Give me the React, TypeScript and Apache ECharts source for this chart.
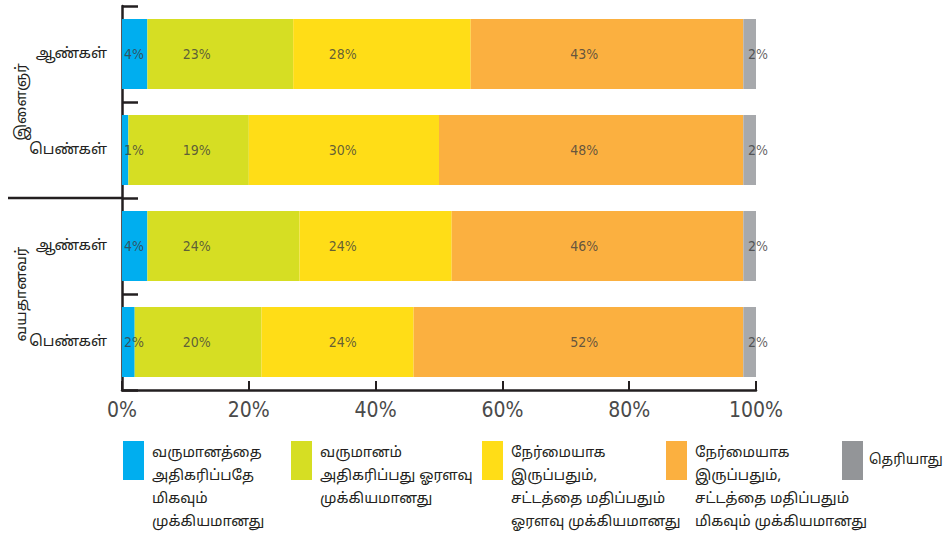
import React, { useEffect, useRef } from "react";
import * as echarts from "echarts";

const rowKeys = ["young_m", "young_f", "old_m", "old_f"];
const rowLabels = ["ஆண்கள்", "பெண்கள்", "ஆண்கள்", "பெண்கள்"];
const groupLabels = ["இளைஞர்", "வயதானவர்"];
const seriesNames = [
  "வருமானத்தை\nஅதிகரிப்பதே\nமிகவும்\nமுக்கியமானது",
  "வருமானம்\nஅதிகரிப்பது ஓரளவு\nமுக்கியமானது",
  "நேர்மையாக\nஇருப்பதும்,\nசட்டத்தை மதிப்பதும்\nஓரளவு முக்கியமானது",
  "நேர்மையாக\nஇருப்பதும்,\nசட்டத்தை மதிப்பதும்\nமிகவும் முக்கியமானது",
  "தெரியாது",
];
const incomeMost = [4, 1, 4, 2];
const incomeSome = [23, 19, 24, 20];
const honestSome = [28, 30, 24, 24];
const honestMost = [43, 48, 46, 52];
const dontKnow = [2, 2, 2, 2];
const xTicks = [0, 20, 40, 60, 80, 100];

// layout / style (not data)
const seriesValues = [incomeMost, incomeSome, honestSome, honestMost, dontKnow];
const colors = ["#00aeef", "#d6de23", "#ffdd17", "#fbb040", "#a7a9ac"];
const legendIconColors = ["#00aeef", "#d6de23", "#ffdd17", "#fbb040", "#939598"];
const labelColumns = [1.9, 11.8, 34.8, 72.9, 100.3];
const legendLefts = [123, 291, 482, 666, 842];
const LINE_H = 23;
const ICON_W = 21;
const ICON_H = 39;
const NUM_FONT = "'Liberation Sans Narrow', 'DejaVu Sans Condensed', 'Roboto Condensed', 'Liberation Sans', sans-serif";
const TAMIL_FONT = "'Noto Sans Tamil', 'Noto Serif Tamil', 'Lohit Tamil', 'FreeSerif', 'FreeSans', sans-serif";

export default function App() {
  const ref = useRef<HTMLDivElement>(null);
  useEffect(() => {
    if (!ref.current) return;
    const chart = echarts.init(ref.current, undefined, { renderer: "svg" });
    const bars = seriesNames.map((name, i) => ({
      name,
      type: "bar",
      stack: "total",
      yAxisIndex: 0,
      barWidth: 70,
      silent: true,
      itemStyle: { color: colors[i] },
      data: seriesValues[i],
    }));
    const labels = seriesNames.map((name, i) => ({
      name: "lbl" + i,
      type: "scatter",
      yAxisIndex: 0,
      symbolSize: 0,
      silent: true,
      clip: false,
      z: 5,
      data: seriesValues[i].map((v, j) => [labelColumns[i], j, v]),
      label: {
        show: true,
        position: "inside",
        formatter: (p: any) => p.value[2] + "%",
        fontFamily: NUM_FONT,
        fontSize: 14,
        color: "#3d3d3d",
      },
    }));
    const legends = seriesNames.map((name, i) => {
      const lines = name.split("\n").length;
      const h = Math.max(ICON_H, lines * LINE_H);
      // icon: coloured rect at the top of a taller (transparent) item box
      const icon = `path://M0,0H${ICON_W}V${ICON_H}H0Z M0,${h}H${ICON_W}`;
      const last = i === seriesNames.length - 1;
      return {
        data: [{ name, itemStyle: { color: legendIconColors[i] } }],
        left: legendLefts[i],
        top: 441,
        padding: 0,
        icon,
        itemWidth: ICON_W,
        itemHeight: h,
        selectedMode: false,
        textStyle: {
          fontFamily: TAMIL_FONT,
          fontSize: last ? 14 : 14.5,
          lineHeight: LINE_H,
          color: "#231f20",
          padding: [0, 0, 0, last ? 1 : 3],
        },
      };
    });
    chart.setOption({
      animation: false,
      grid: { left: 122, top: 6, width: 634, height: 384 },
      legend: legends,
      xAxis: {
        type: "value",
        min: xTicks[0],
        max: xTicks[xTicks.length - 1],
        interval: xTicks[1] - xTicks[0],
        splitLine: { show: false },
        axisLine: { show: true, lineStyle: { color: "#231f20", width: 2.5 } },
        axisTick: { show: true, inside: true, length: 9, lineStyle: { color: "#231f20", width: 2 } },
        axisLabel: {
          formatter: "{value}%",
          fontFamily: NUM_FONT,
          fontSize: 21,
          color: "#4a4a4a",
          margin: 9,
        },
      },
      yAxis: [
        {
          type: "category",
          inverse: true,
          data: rowKeys,
          axisLine: { show: true, lineStyle: { color: "#231f20", width: 2.5 } },
          axisTick: { show: true, inside: true, length: 16, lineStyle: { color: "#231f20", width: 2.5 } },
          axisLabel: {
            formatter: (v: string) => rowLabels[rowKeys.indexOf(v)],
            fontFamily: TAMIL_FONT,
            fontSize: 15,
            color: "#231f20",
            margin: 15,
          },
        },
        {
          type: "category",
          inverse: true,
          position: "left",
          offset: 86,
          data: groupLabels,
          axisLine: { show: false },
          axisTick: { show: false },
          axisLabel: { rotate: 90, fontFamily: TAMIL_FONT, fontSize: 15, color: "#231f20", margin: 6 },
        },
      ],
      series: [...bars, ...labels],
    });
    const y1 = chart.convertToPixel({ yAxisIndex: 0 }, 1) as number;
    const y2 = chart.convertToPixel({ yAxisIndex: 0 }, 2) as number;
    const x0 = chart.convertToPixel({ xAxisIndex: 0 }, 0) as number;
    const ySep = (y1 + y2) / 2;
    chart.setOption({
      graphic: [
        {
          type: "line",
          shape: { x1: 8, y1: ySep, x2: x0, y2: ySep },
          style: { stroke: "#231f20", lineWidth: 2.5 },
          silent: true,
        },
      ],
    });
    return () => chart.dispose();
  }, []);
  return (
    <div
      ref={ref}
      style={{ position: "fixed", left: 0, top: 0, width: 943, height: 535, background: "#fff" }}
    />
  );
}
